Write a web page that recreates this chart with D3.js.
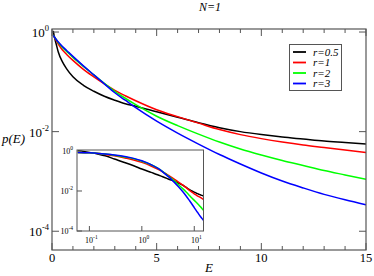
<!DOCTYPE html>
<html>
<head>
<meta charset="utf-8">
<script src="https://cdn.jsdelivr.net/npm/d3@7"></script>
<style>
	body { margin: 0; background: #ffffff; }
	svg { display: block; }
	svg text { font-family: "Liberation Serif", "Times New Roman", "DejaVu Serif", serif; }
</style>
</head>
<body>
<svg id="chart" width="374" height="276"></svg>
<script>
// energy grid and p(E)
var energies = [0.06, 0.1, 0.15, 0.2, 0.3, 0.5, 0.7, 1, 1.5, 2, 2.5, 3, 3.5, 4, 5, 6, 7, 8, 9, 10, 11, 12, 13, 14, 15];
var pR05 = [1.05, 0.851, 0.692, 0.575, 0.398, 0.251, 0.182, 0.126, 0.0851, 0.0646, 0.0513, 0.0427, 0.0363, 0.0324, 0.0251, 0.0195, 0.0151, 0.0120, 0.0100, 0.00871, 0.00776, 0.00708, 0.00646, 0.00603, 0.00562];
var pR1 = [0.851, 0.813, 0.741, 0.676, 0.575, 0.437, 0.355, 0.269, 0.178, 0.126, 0.0912, 0.0676, 0.0525, 0.0417, 0.0275, 0.0200, 0.0148, 0.0110, 0.00871, 0.00724, 0.00617, 0.00537, 0.00479, 0.00427, 0.00380];
var pR2 = [0.851, 0.813, 0.759, 0.708, 0.617, 0.490, 0.407, 0.309, 0.204, 0.138, 0.0933, 0.0646, 0.0468, 0.0347, 0.0204, 0.0132, 0.00891, 0.00617, 0.00447, 0.00339, 0.00263, 0.00209, 0.00166, 0.00135, 0.00110];
var pR3 = [0.851, 0.813, 0.759, 0.708, 0.631, 0.513, 0.427, 0.324, 0.209, 0.138, 0.0912, 0.0603, 0.0427, 0.0302, 0.0162, 0.00933, 0.00562, 0.00347, 0.00224, 0.00148, 0.00102, 0.000741, 0.000550, 0.000427, 0.000339];

var seriesLabels = ["r=0.5", "r=1", "r=2", "r=3"];
var seriesColors = ["#000000", "#ff0000", "#00ff00", "#0000ff"];
var seriesValues = [pR05, pR1, pR2, pR3];

var xMajorTicks = [0, 5, 10, 15];
var xMinorTicks = [1, 2, 3, 4, 6, 7, 8, 9, 11, 12, 13, 14];
var yTicks = [1, 1e-2, 1e-4];
var insetXTicks = [0.1, 1, 10];
var insetYTicks = [1, 1e-2, 1e-4];

var svg = d3.select("#chart");
var frameColor = "#555555";
var serif = "'Liberation Serif', 'Times New Roman', 'DejaVu Serif', serif";

var series = seriesValues.map(function(vals, i) {
	return {
		label: seriesLabels[i],
		color: seriesColors[i],
		points: vals.map(function(v, j) { return { e: energies[j], p: v }; })
	};
});

/* MAIN PLOT */
var x = d3.scaleLinear().domain([0, 15]).range([52, 366]);
var y = d3.scaleLog().domain([4.2e-5, 1.15]).range([250, 29]);

svg.append("clipPath").attr("id", "clipMain")
	.append("rect")
	.attr("x", 52).attr("y", 29).attr("width", 314).attr("height", 221);

var line = d3.line()
	.x(function(d) { return x(d.e); })
	.y(function(d) { return y(d.p); })
	.curve(d3.curveMonotoneX);

svg.append("g")
	.attr("clip-path", "url(#clipMain)")
	.selectAll("path")
	.data(series)
	.enter()
	.append("path")
	.attr("d", function(d) { return line(d.points); })
	.attr("fill", "none")
	.attr("stroke", function(d) { return d.color; })
	.attr("stroke-width", 1.5);

// frame
svg.append("rect")
	.attr("x", 52).attr("y", 29).attr("width", 314).attr("height", 221)
	.attr("fill", "none")
	.attr("stroke", frameColor)
	.attr("stroke-width", 1.2);

// ticks on all four sides, pointing in
var ticksG = svg.append("g").attr("stroke", frameColor).attr("stroke-width", 1);
xMajorTicks.forEach(function(t) {
	ticksG.append("line").attr("x1", x(t)).attr("x2", x(t)).attr("y1", 250).attr("y2", 243);
	ticksG.append("line").attr("x1", x(t)).attr("x2", x(t)).attr("y1", 29).attr("y2", 36);
});
xMinorTicks.forEach(function(t) {
	ticksG.append("line").attr("x1", x(t)).attr("x2", x(t)).attr("y1", 250).attr("y2", 246);
	ticksG.append("line").attr("x1", x(t)).attr("x2", x(t)).attr("y1", 29).attr("y2", 33);
});
yTicks.forEach(function(t) {
	ticksG.append("line").attr("x1", 52).attr("x2", 59).attr("y1", y(t)).attr("y2", y(t));
	ticksG.append("line").attr("x1", 366).attr("x2", 359).attr("y1", y(t)).attr("y2", y(t));
});

svg.append("g")
	.selectAll("text")
	.data(xMajorTicks)
	.enter()
	.append("text")
	.attr("x", function(d) { return x(d); })
	.attr("y", 262)
	.attr("text-anchor", "middle")
	.attr("font-family", serif)
	.attr("font-size", "12.5px")
	.attr("fill", "#000000")
	.text(function(d) { return d; });

function powerLabel(sel, size, supSize, lift) {
	sel.append("tspan").attr("font-size", size).text("10");
	sel.append("tspan")
		.attr("font-size", supSize)
		.attr("dy", -lift)
		.text(function(d) { return Math.round(Math.log10(d)); });
}

svg.append("g")
	.selectAll("text")
	.data(yTicks)
	.enter()
	.append("text")
	.attr("x", 49)
	.attr("y", function(d) { return y(d) + 5; })
	.attr("text-anchor", "end")
	.attr("font-family", serif)
	.attr("fill", "#000000")
	.call(powerLabel, "13px", "8.5px", 6);

// axis labels and title
svg.append("text")
	.attr("x", 2).attr("y", 143)
	.attr("font-family", serif)
	.attr("font-size", "13px").attr("font-style", "italic")
	.text("p(E)");
svg.append("text")
	.attr("x", 209).attr("y", 272)
	.attr("text-anchor", "middle")
	.attr("font-family", serif)
	.attr("font-size", "13px").attr("font-style", "italic")
	.text("E");
svg.append("text")
	.attr("x", 210).attr("y", 11)
	.attr("text-anchor", "middle")
	.attr("font-family", serif)
	.attr("font-size", "12px").attr("font-style", "italic")
	.text("N=1");

/* LEGEND */
var legend = svg.append("g");
legend.append("rect")
	.attr("x", 289.5).attr("y", 44.5).attr("width", 52).attr("height", 46)
	.attr("fill", "#ffffff")
	.attr("stroke", frameColor)
	.attr("stroke-width", 1);
var rows = legend.selectAll("g.row")
	.data(series)
	.enter()
	.append("g")
	.attr("class", "row")
	.attr("transform", function(d, i) { return "translate(0," + (52 + i * 10.5) + ")"; });
rows.append("line")
	.attr("x1", 293).attr("x2", 306)
	.attr("y1", 0).attr("y2", 0)
	.attr("stroke", function(d) { return d.color; })
	.attr("stroke-width", 1.8);
rows.append("text")
	.attr("x", 313).attr("y", 3.5)
	.attr("font-family", serif)
	.attr("font-size", "11px").attr("font-style", "italic")
	.text(function(d) { return d.label; });

/* INSET */
var xi = d3.scaleLog().domain([0.058, 15]).range([77, 203.5]);
var yi = d3.scaleLog().domain([1e-4, 1.12]).range([231, 150]);

svg.append("rect")
	.attr("x", 77).attr("y", 150).attr("width", 126.5).attr("height", 81)
	.attr("fill", "#ffffff");

svg.append("clipPath").attr("id", "clipInset")
	.append("rect")
	.attr("x", 77).attr("y", 150).attr("width", 126.5).attr("height", 81);

var insetLine = d3.line()
	.x(function(d) { return xi(d.e); })
	.y(function(d) { return yi(d.p); })
	.curve(d3.curveMonotoneX);

svg.append("g")
	.attr("clip-path", "url(#clipInset)")
	.selectAll("path")
	.data(series)
	.enter()
	.append("path")
	.attr("d", function(d) { return insetLine(d.points); })
	.attr("fill", "none")
	.attr("stroke", function(d) { return d.color; })
	.attr("stroke-width", 1.5);

svg.append("rect")
	.attr("x", 77).attr("y", 150).attr("width", 126.5).attr("height", 81)
	.attr("fill", "none")
	.attr("stroke", frameColor)
	.attr("stroke-width", 1);

var insetTicks = svg.append("g").attr("stroke", frameColor).attr("stroke-width", 1);
insetXTicks.forEach(function(t) {
	insetTicks.append("line").attr("x1", xi(t)).attr("x2", xi(t)).attr("y1", 231).attr("y2", 226);
});
insetYTicks.forEach(function(t) {
	insetTicks.append("line").attr("x1", 77).attr("x2", 82).attr("y1", yi(t)).attr("y2", yi(t));
});

svg.append("g")
	.selectAll("text")
	.data(insetXTicks)
	.enter()
	.append("text")
	.attr("x", function(d) { return xi(d) + 2; })
	.attr("y", 243)
	.attr("text-anchor", "middle")
	.attr("font-family", serif)
	.attr("fill", "#000000")
	.call(powerLabel, "8px", "5.5px", 4);

svg.append("g")
	.selectAll("text")
	.data(insetYTicks)
	.enter()
	.append("text")
	.attr("x", 73)
	.attr("y", function(d) { return yi(d) + 3; })
	.attr("text-anchor", "end")
	.attr("font-family", serif)
	.attr("fill", "#000000")
	.call(powerLabel, "8px", "5.5px", 4);
</script>
</body>
</html>
